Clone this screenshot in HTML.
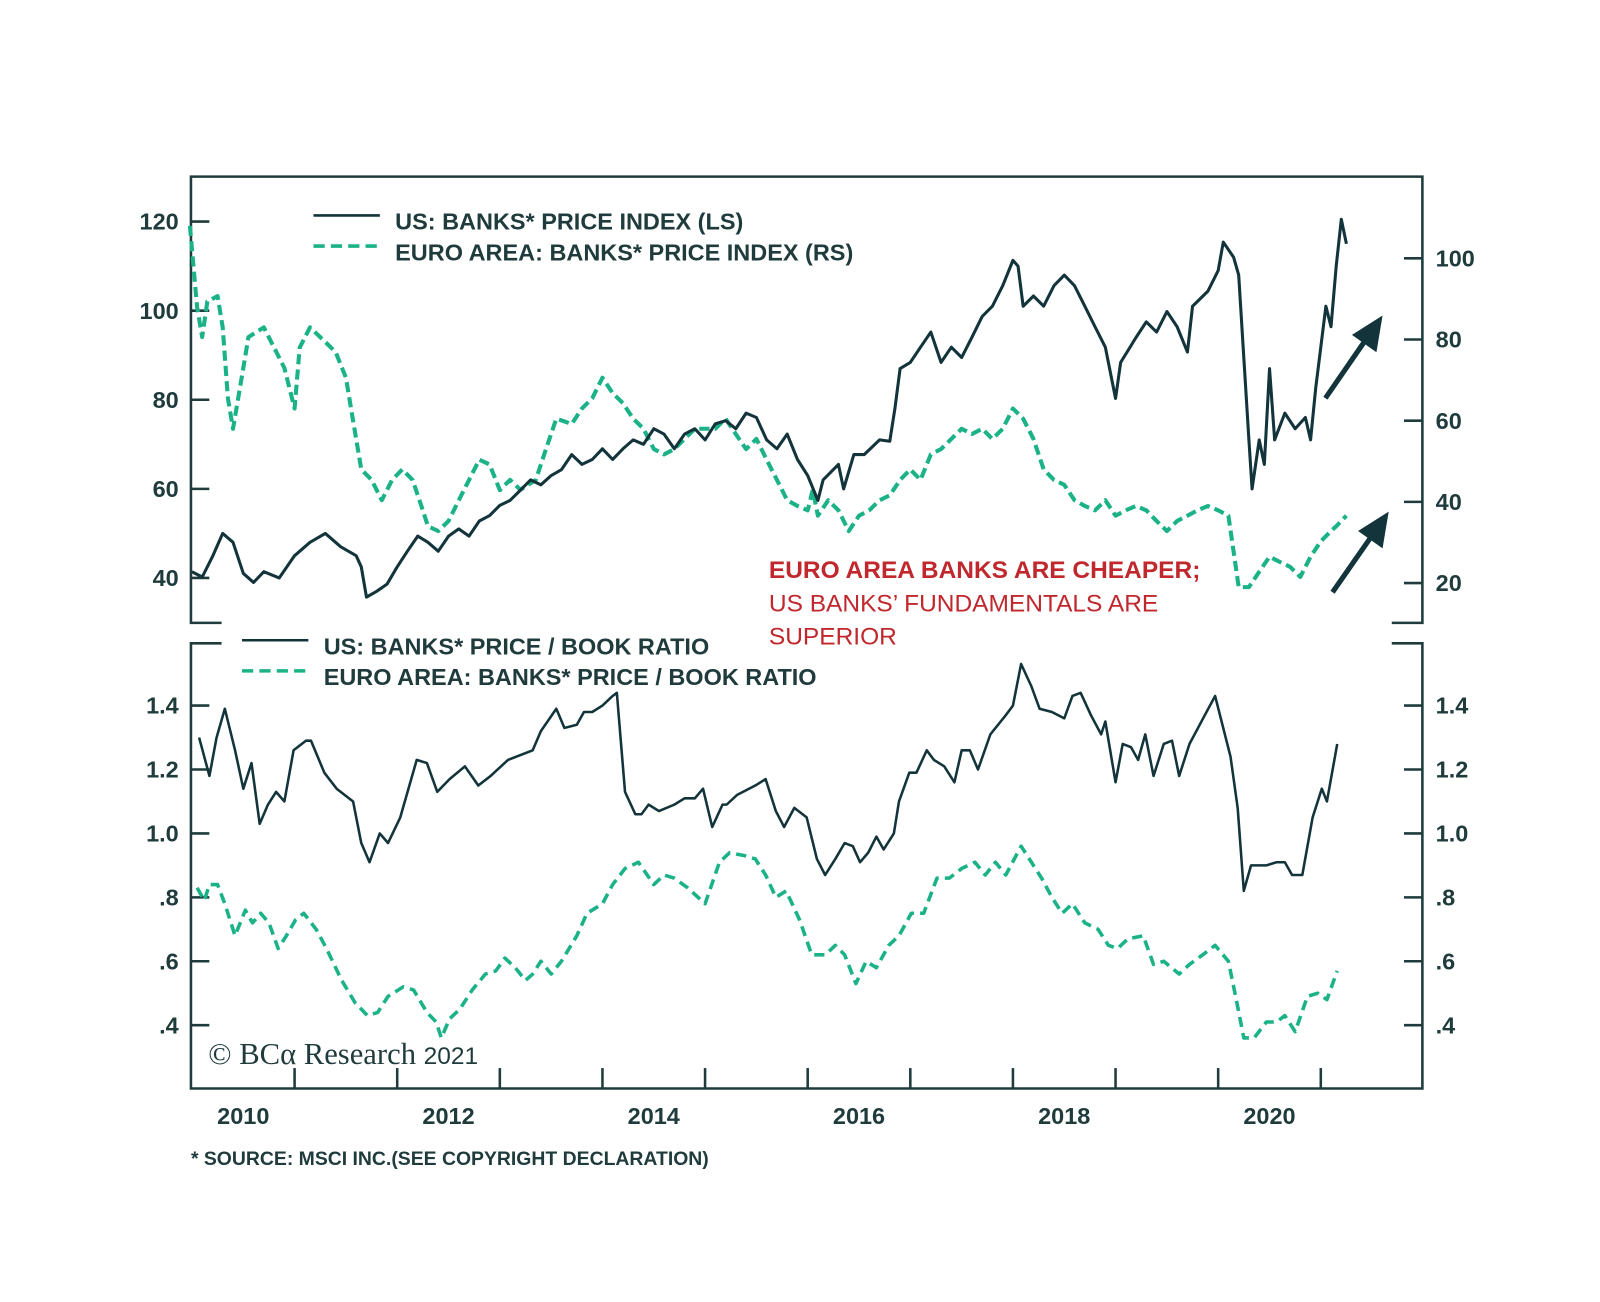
<!DOCTYPE html>
<html><head><meta charset="utf-8"><style>
html,body{margin:0;padding:0;background:#fff;}
svg{display:block;}
.t{font-family:"Liberation Sans",Arial,sans-serif;font-weight:bold;fill:#1f3b3c;}
</style></head><body>
<svg id="chart" width="1600" height="1302" viewBox="0 0 1600 1302" xmlns="http://www.w3.org/2000/svg">
<g transform="scale(1.0211)">
<g id="frame" stroke="#1f3b3c" stroke-width="2.5" fill="none">
<path d="M217,610 H187 V173 H1393 V610 H1363"/>
<path d="M217,630 H187 V1066 H1393 V630 H1363"/>
</g>
<g id="axes"></g>
<g id="series"></g>
<g>
<line x1="307" y1="211" x2="372" y2="211" stroke="#12343a" stroke-width="2.5"/>
<text class="t" x="387" y="225" font-size="23">US: BANKS* PRICE INDEX (LS)</text>
<line x1="307" y1="241" x2="372" y2="241" stroke="#1bb287" stroke-width="3.5" stroke-dasharray="11,6"/>
<text class="t" x="387" y="255" font-size="23">EURO AREA: BANKS* PRICE INDEX (RS)</text>
</g>
<g>
<line x1="237" y1="627" x2="302" y2="627" stroke="#12343a" stroke-width="2.5"/>
<text class="t" x="317" y="641" font-size="23">US: BANKS* PRICE / BOOK RATIO</text>
<line x1="237" y1="657" x2="302" y2="657" stroke="#1bb287" stroke-width="3.5" stroke-dasharray="11,6"/>
<text class="t" x="317" y="671" font-size="23">EURO AREA: BANKS* PRICE / BOOK RATIO</text>
</g>
<g font-family="Liberation Sans, Arial, sans-serif" fill="#c0282d" font-size="24">
<text x="753" y="566" font-weight="bold">EURO AREA BANKS ARE CHEAPER;</text>
<text x="753" y="599">US BANKS’ FUNDAMENTALS ARE</text>
<text x="753" y="631">SUPERIOR</text>
</g>
<g stroke="#12343a" stroke-width="5" fill="#12343a">
<line x1="1298" y1="390" x2="1338" y2="332"/>
<polygon points="1354,309 1348,345 1324,328" stroke="none"/>
<line x1="1305" y1="580" x2="1344" y2="524"/>
<polygon points="1360,501 1354,537 1330,520" stroke="none"/>
</g>
<text x="204" y="1042" font-family="Liberation Serif, serif" font-size="30" fill="#1f3b3c">© BCα Research <tspan font-family="Liberation Sans, sans-serif" font-size="24">2021</tspan></text>
<text class="t" x="187" y="1141" font-size="19">* SOURCE: MSCI INC.(SEE COPYRIGHT DECLARATION)</text>
</g>
</svg>
<script>
const usPriceDates=[2010.0,2010.1,2010.2,2010.3,2010.4,2010.5,2010.6,2010.7,2010.85,2011.0,2011.15,2011.3,2011.45,2011.6,2011.65,2011.7,2011.8,2011.9,2012.0,2012.1,2012.2,2012.3,2012.4,2012.5,2012.6,2012.7,2012.8,2012.9,2013.0,2013.1,2013.2,2013.3,2013.4,2013.5,2013.6,2013.7,2013.8,2013.9,2014.0,2014.1,2014.2,2014.3,2014.4,2014.5,2014.6,2014.7,2014.8,2014.9,2015.0,2015.1,2015.2,2015.3,2015.4,2015.5,2015.6,2015.7,2015.8,2015.9,2016.0,2016.1,2016.15,2016.3,2016.35,2016.45,2016.55,2016.7,2016.8,2016.85,2016.9,2017.0,2017.1,2017.2,2017.3,2017.4,2017.5,2017.6,2017.7,2017.8,2017.9,2018.0,2018.05,2018.1,2018.2,2018.3,2018.4,2018.5,2018.6,2018.7,2018.8,2018.9,2019.0,2019.05,2019.2,2019.3,2019.4,2019.5,2019.6,2019.7,2019.75,2019.9,2020.0,2020.05,2020.15,2020.2,2020.25,2020.3,2020.33,2020.4,2020.45,2020.5,2020.55,2020.65,2020.75,2020.85,2020.9,2020.95,2021.0,2021.05,2021.1,2021.15,2021.2,2021.25];
const usPriceValues=[41.4,40.2,44.8,50,48,41,39,41.4,40,45,48,50,47,45,42.5,35.7,37,38.6,42.5,46,49.4,48,46,49.4,51,49.4,52.8,54,56.3,57.4,59.7,62,60.9,63,64.3,67.7,65.5,66.6,69,66.6,69,71,70,73.5,72.3,69,72.3,73.5,71,74.6,75.3,73.5,77,76,71,69,72.3,66.6,63,57.4,62,65.5,60,67.7,67.7,71,70.7,78,87,88.4,91.8,95.2,88.4,91.8,89.5,94,98.7,101,105.6,111.3,110,101,103.3,101,105.6,108,105.6,101,96.4,91.8,80.3,88.4,94,97.5,95.2,99.8,96.4,90.7,101,104.4,109,115.4,112,108,89.5,71,60,71,65.5,87,71,77,73.5,76,71,82.6,91.8,101,96.4,110,120.5,115];
const euPriceDates=[2009.98,2010.05,2010.1,2010.15,2010.25,2010.3,2010.35,2010.4,2010.5,2010.55,2010.7,2010.8,2010.9,2011.0,2011.05,2011.15,2011.3,2011.4,2011.5,2011.55,2011.6,2011.65,2011.75,2011.85,2011.95,2012.05,2012.15,2012.25,2012.3,2012.4,2012.5,2012.6,2012.7,2012.8,2012.9,2013.0,2013.1,2013.2,2013.35,2013.45,2013.55,2013.7,2013.8,2013.9,2014.0,2014.1,2014.2,2014.3,2014.4,2014.5,2014.6,2014.7,2014.8,2014.9,2015.1,2015.2,2015.3,2015.4,2015.5,2015.6,2015.7,2015.8,2015.9,2016.0,2016.05,2016.1,2016.2,2016.3,2016.4,2016.5,2016.6,2016.7,2016.8,2016.9,2017.0,2017.1,2017.2,2017.3,2017.4,2017.5,2017.6,2017.7,2017.8,2017.9,2018.0,2018.1,2018.2,2018.3,2018.4,2018.5,2018.6,2018.7,2018.8,2018.9,2019.0,2019.1,2019.2,2019.3,2019.4,2019.5,2019.6,2019.7,2019.8,2019.9,2020.0,2020.1,2020.15,2020.2,2020.3,2020.4,2020.5,2020.6,2020.7,2020.8,2020.9,2021.0,2021.1,2021.15,2021.2,2021.25];
const euPriceValues=[108,88,80.6,89.4,90.7,83,65.5,58,73,80.6,83,78,73,63,78,83,79.4,76.9,70.6,63,55.5,48,45.4,40.4,45.4,48,45.4,37.9,34,32.8,35.3,40.4,45.4,50.4,49.2,42.9,45.4,43,45.4,53,60.5,59.2,63,65.5,70.6,66.8,64.3,60.5,58,53,51.7,53,55.5,58,58,60.5,56.7,53,55.5,50.4,45.4,40.4,39,37.9,43,36.6,40.4,37.9,32.8,36.6,37.9,40.4,41.6,45.4,48,45.4,51.7,53,55.5,58,56.7,58,55.5,58,63,60.5,55.5,48,45.4,44.2,40.4,39,37.9,40.4,36.6,37.9,39,37.9,35.3,32.8,35.3,36.6,37.9,39,37.9,36.6,27.8,19,19,22.8,26.5,25.2,24,21.5,26.5,30.3,32.8,34,35.3,36.6];
const usPbDates=[2010.07,2010.17,2010.24,2010.32,2010.42,2010.50,2010.58,2010.66,2010.74,2010.82,2010.90,2010.99,2011.11,2011.16,2011.29,2011.41,2011.57,2011.65,2011.73,2011.83,2011.91,2012.03,2012.19,2012.29,2012.39,2012.51,2012.66,2012.79,2012.91,2013.08,2013.32,2013.40,2013.55,2013.63,2013.75,2013.82,2013.90,2014.00,2014.10,2014.14,2014.22,2014.32,2014.38,2014.45,2014.55,2014.70,2014.80,2014.90,2014.98,2015.07,2015.17,2015.21,2015.31,2015.49,2015.59,2015.69,2015.77,2015.87,2015.99,2016.09,2016.17,2016.27,2016.36,2016.44,2016.51,2016.59,2016.67,2016.74,2016.84,2016.89,2016.99,2017.06,2017.16,2017.23,2017.33,2017.43,2017.50,2017.58,2017.66,2017.78,2017.93,2018.00,2018.08,2018.18,2018.26,2018.38,2018.50,2018.58,2018.66,2018.76,2018.86,2018.90,2019.00,2019.07,2019.15,2019.22,2019.29,2019.37,2019.47,2019.55,2019.62,2019.72,2019.87,2019.97,2020.12,2020.19,2020.25,2020.32,2020.47,2020.57,2020.65,2020.72,2020.82,2020.92,2021.01,2021.06,2021.16];
const usPbValues=[1.30,1.18,1.30,1.39,1.26,1.14,1.22,1.03,1.09,1.13,1.10,1.26,1.29,1.29,1.19,1.14,1.10,0.97,0.91,1.00,0.97,1.05,1.23,1.22,1.13,1.17,1.21,1.15,1.18,1.23,1.26,1.32,1.39,1.33,1.34,1.38,1.38,1.40,1.43,1.44,1.13,1.06,1.06,1.09,1.07,1.09,1.11,1.11,1.14,1.02,1.09,1.09,1.12,1.15,1.17,1.07,1.02,1.08,1.05,0.92,0.87,0.92,0.97,0.96,0.91,0.94,0.99,0.95,1.00,1.10,1.19,1.19,1.26,1.23,1.21,1.16,1.26,1.26,1.20,1.31,1.37,1.40,1.53,1.46,1.39,1.38,1.36,1.43,1.44,1.37,1.31,1.35,1.16,1.28,1.27,1.23,1.31,1.18,1.28,1.29,1.18,1.28,1.37,1.43,1.24,1.08,0.82,0.90,0.90,0.91,0.91,0.87,0.87,1.05,1.14,1.10,1.28];
const euPbDates=[2010.05,2010.12,2010.17,2010.25,2010.32,2010.42,2010.52,2010.59,2010.67,2010.75,2010.84,2010.92,2011.01,2011.09,2011.21,2011.31,2011.46,2011.59,2011.71,2011.81,2011.91,2012.06,2012.16,2012.29,2012.38,2012.43,2012.51,2012.61,2012.73,2012.86,2012.96,2013.05,2013.15,2013.25,2013.32,2013.40,2013.50,2013.60,2013.75,2013.85,2014.00,2014.10,2014.22,2014.35,2014.50,2014.60,2014.70,2014.83,2015.00,2015.14,2015.24,2015.39,2015.49,2015.59,2015.69,2015.79,2015.92,2016.04,2016.17,2016.27,2016.36,2016.47,2016.57,2016.67,2016.79,2016.89,2017.01,2017.13,2017.26,2017.38,2017.50,2017.63,2017.73,2017.83,2017.93,2018.08,2018.18,2018.28,2018.38,2018.48,2018.58,2018.70,2018.83,2018.93,2019.02,2019.12,2019.27,2019.37,2019.47,2019.62,2019.72,2019.85,2019.97,2020.10,2020.17,2020.25,2020.35,2020.47,2020.57,2020.65,2020.75,2020.87,2020.97,2021.06,2021.16];
const euPbValues=[0.83,0.79,0.84,0.84,0.78,0.68,0.76,0.72,0.75,0.72,0.64,0.68,0.73,0.75,0.70,0.64,0.54,0.47,0.43,0.44,0.49,0.52,0.51,0.44,0.41,0.36,0.42,0.45,0.51,0.56,0.57,0.61,0.58,0.54,0.56,0.60,0.56,0.60,0.68,0.75,0.78,0.84,0.89,0.91,0.84,0.87,0.86,0.83,0.78,0.91,0.94,0.93,0.92,0.87,0.80,0.82,0.73,0.62,0.62,0.65,0.62,0.53,0.60,0.58,0.65,0.68,0.75,0.75,0.86,0.86,0.89,0.91,0.87,0.91,0.87,0.96,0.91,0.86,0.80,0.75,0.78,0.72,0.70,0.65,0.64,0.67,0.68,0.59,0.60,0.56,0.59,0.62,0.65,0.60,0.49,0.36,0.36,0.41,0.41,0.43,0.38,0.49,0.50,0.48,0.57];
const topLeftTicks=[40,60,80,100,120];
const topRightTicks=[20,40,60,80,100];
const bottomTicks=[0.4,0.6,0.8,1.0,1.2,1.4];
const bottomTickLabels=[".4",".6",".8","1.0","1.2","1.4"];
const yearLabels=[2010,2012,2014,2016,2018,2020];
const yearTicks=[2011,2012,2013,2014,2015,2016,2017,2018,2019,2020,2021];

const NS='http://www.w3.org/2000/svg';
const xS=t=>188+(t-2010)*100.5;
const yTL=v=>217+(120-v)*87.25/20;
const yTR=v=>253+(100-v)*79.5/20;
const yB=v=>691+(1.4-v)*313;
function mk(tag,attrs,parent){const e=document.createElementNS(NS,tag);for(const k in attrs)e.setAttribute(k,attrs[k]);parent.appendChild(e);return e;}
const axes=document.getElementById('axes');
const series=document.getElementById('series');
const C='#1f3b3c';
topLeftTicks.forEach(v=>{
  const y=yTL(v);
  const l=mk('line',{x1:187,y1:y,x2:205,y2:y,stroke:C,'stroke-width':2.5},axes);
  
  
  const t=mk('text',{x:175,y:y+8,'text-anchor':'end','font-size':23,class:'t'},axes);
  t.textContent=v;
  
  
});
topRightTicks.forEach(v=>{
  const y=yTR(v);
  const l=mk('line',{x1:1375,y1:y,x2:1393,y2:y,stroke:C,'stroke-width':2.5},axes);
  
  
  const t=mk('text',{x:1406,y:y+8,'font-size':23,class:'t'},axes);
  t.textContent=v;
  
  
});
bottomTicks.forEach((v,i)=>{
  const y=yB(v);
  [[187,205],[1375,1393]].forEach(p=>{
    const l=mk('line',{x1:p[0],y1:y,x2:p[1],y2:y,stroke:C,'stroke-width':2.5},axes);
    
    
  });
  const t=mk('text',{x:175,y:y+8,'text-anchor':'end','font-size':23,class:'t'},axes);
  t.textContent=bottomTickLabels[i];
  
  
  const t2=mk('text',{x:1406,y:y+8,'font-size':23,class:'t'},axes);
  t2.textContent=bottomTickLabels[i];
  
  
});
yearTicks.forEach(yr=>{
  const x=xS(yr);
  const l=mk('line',{x1:x,y1:1046,x2:x,y2:1066,stroke:C,'stroke-width':2.5},axes);
  
  
});
yearLabels.forEach(yr=>{
  const t=mk('text',{x:xS(yr+0.5),y:1101,'text-anchor':'middle','font-size':23,class:'t'},axes);
  t.textContent=yr;
  
  
});
function path(dates,vals,ys){return dates.map((d,i)=>(i?'L':'M')+xS(d).toFixed(1)+','+ys(vals[i]).toFixed(1)).join('');}
const p1=mk('path',{d:path(euPriceDates,euPriceValues,yTR),fill:'none',stroke:'#1bb287','stroke-width':4,'stroke-dasharray':'10,5','stroke-linejoin':'round'},series);


const p2=mk('path',{d:path(usPriceDates,usPriceValues,yTL),fill:'none',stroke:'#12343a','stroke-width':3,'stroke-linejoin':'round'},series);


const p3=mk('path',{d:path(euPbDates,euPbValues,yB),fill:'none',stroke:'#1bb287','stroke-width':3.5,'stroke-dasharray':'10,6','stroke-linejoin':'round'},series);


const p4=mk('path',{d:path(usPbDates,usPbValues,yB),fill:'none',stroke:'#12343a','stroke-width':2.5,'stroke-linejoin':'round'},series);


</script>
</body></html>
